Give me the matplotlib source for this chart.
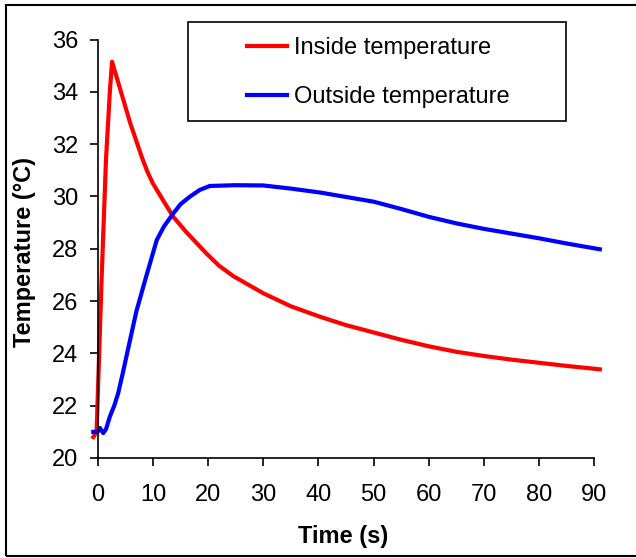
import matplotlib
matplotlib.use('Agg')
import matplotlib.pyplot as plt
from matplotlib.patches import Rectangle

plt.rcParams['font.family'] = ['Liberation Sans', 'DejaVu Sans']

# data
time_inside = [-0.8, -0.2, 0.7, 1.5, 2.2, 2.6, 4.3, 5.9, 8.0, 9.0, 10.0, 12.0, 13.7,
               16.0, 18.0, 19.7, 22.0, 24.6, 27.5, 30.0, 35.0, 40.3, 45.0, 50.0, 55.0,
               60.0, 65.0, 70.0, 75.0, 80.0, 85.0, 91.0]
temp_inside = [20.8, 21.0, 26.8, 31.4, 34.0, 35.15, 33.94, 32.8, 31.5, 30.95, 30.5, 29.8, 29.22,
               28.65, 28.2, 27.82, 27.35, 26.95, 26.6, 26.3, 25.8, 25.4, 25.08, 24.8, 24.52,
               24.27, 24.06, 23.9, 23.76, 23.64, 23.52, 23.39]

time_outside = [-0.8, 0.0, 0.4, 1.0, 1.5, 2.2, 3.0, 3.7, 4.5, 5.85, 7.0, 8.6, 10.7, 12.0,
                13.7, 15.0, 16.7, 18.5, 20.3, 25.0, 30.0, 35.0, 40.3, 45.0, 50.0, 55.0,
                60.0, 65.0, 70.0, 75.0, 80.0, 85.0, 91.0]
temp_outside = [21.0, 21.0, 21.15, 20.95, 21.1, 21.58, 22.0, 22.47, 23.2, 24.5, 25.6, 26.8, 28.33, 28.85,
                29.35, 29.7, 29.99, 30.25, 30.4, 30.43, 30.42, 30.3, 30.15, 29.98, 29.8, 29.52,
                29.22, 28.97, 28.76, 28.58, 28.4, 28.2, 27.98]

x_ticks = [0, 10, 20, 30, 40, 50, 60, 70, 80, 90]
y_ticks = [20, 22, 24, 26, 28, 30, 32, 34, 36]

W, H = 636, 558
fig = plt.figure(figsize=(W / 100, H / 100), dpi=100)
ax = fig.add_axes([97.7 / W, 1 - 458 / H, (594.3 - 97.7) / W, (458 - 39.5) / H])

l1, = ax.plot(time_inside, temp_inside, color='#ff0000', lw=3, clip_on=False,
              solid_joinstyle='round', label='Inside temperature')
l2, = ax.plot(time_outside, temp_outside, color='#0000ff', lw=3, clip_on=False,
              solid_joinstyle='round', label='Outside temperature')

ax.set_xlim(0, 90)
ax.set_ylim(20, 36)
ax.set_xticks(x_ticks)
ax.set_yticks(y_ticks)
ax.spines['top'].set_visible(False)
ax.spines['right'].set_visible(False)
for s in ['left', 'bottom']:
    ax.spines[s].set_linewidth(1.2)
ax.tick_params(axis='both', direction='out', length=6, width=1.2, labelsize=17)
ax.tick_params(axis='x', pad=13)
ax.tick_params(axis='y', pad=8)

fig.text(25 / W, 1 - 252 / H, 'Temperature (°C)', rotation=90, ha='center', va='center',
         fontsize=17, fontweight='bold')
fig.text(343 / W, 1 - 537 / H, 'Time (s)', ha='center', va='center',
         fontsize=17, fontweight='bold')

# legend without frame, box drawn separately
fig.legend(handles=[l1, l2], loc='center left', bbox_to_anchor=(246.7 / W, 1 - 72.8 / H),
           frameon=False, fontsize=17, borderpad=0, borderaxespad=0,
           handlelength=1.7, handletextpad=0.3, labelspacing=1.15)
fig.patches.append(Rectangle((187.7 / W, 1 - 120.7 / H), (565.7 - 187.7) / W, 99 / H,
                             transform=fig.transFigure, fill=False, edgecolor='black', lw=1.2))

# outer chart border
fig.patches.append(Rectangle((6 / W, 1 - 556 / H), 1.0, (556 - 5) / H,
                             transform=fig.transFigure, fill=False, edgecolor='black', lw=1.5))

fig.savefig('out.png', dpi=100)
